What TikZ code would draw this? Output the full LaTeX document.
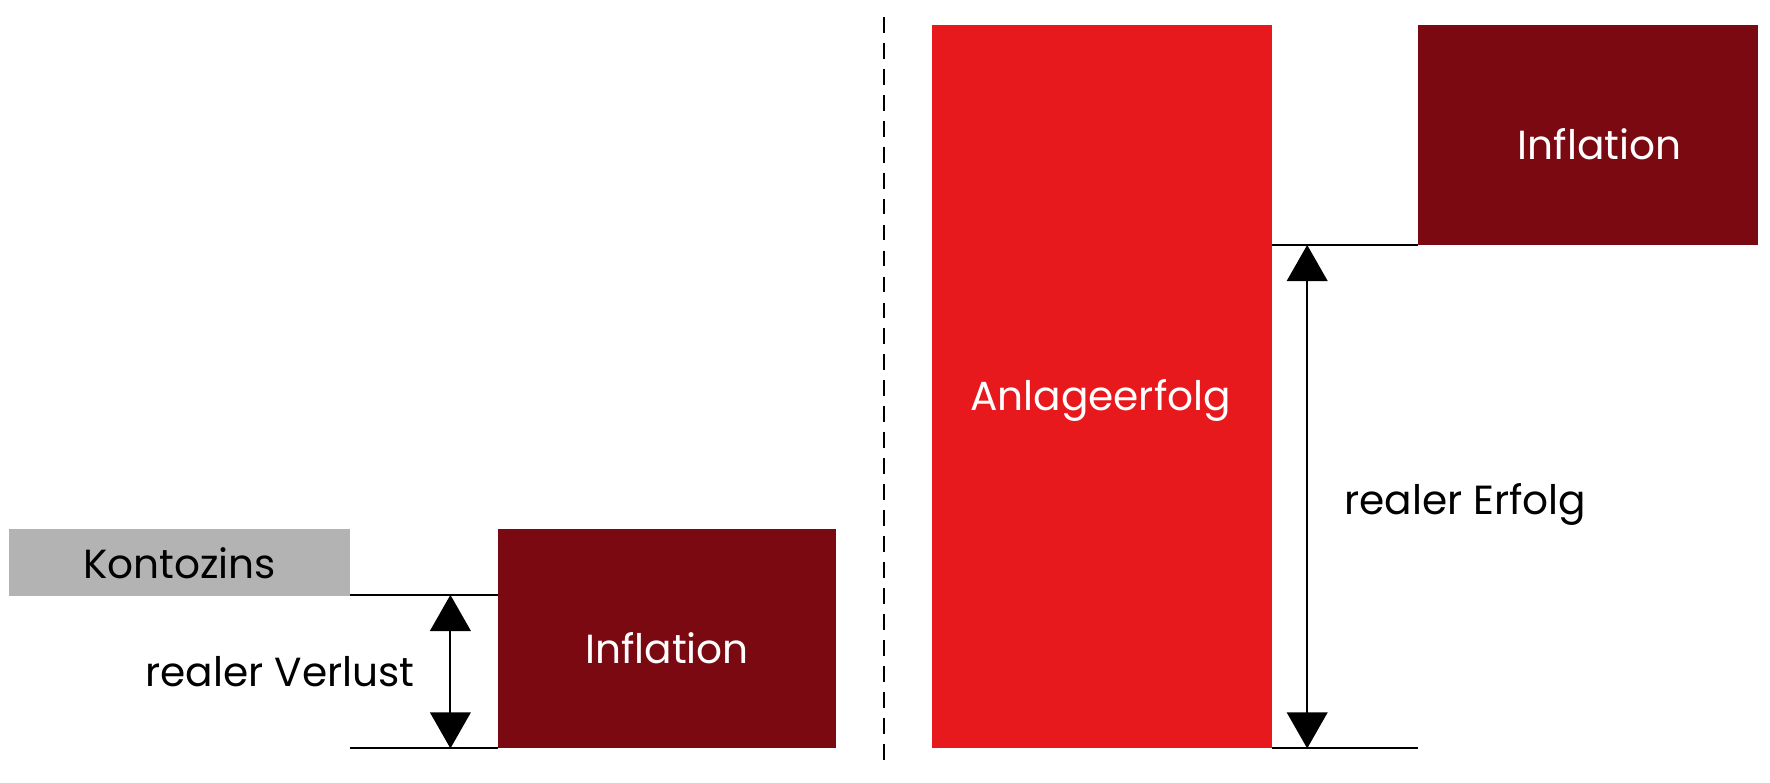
\documentclass[tikz,border=0pt]{standalone}
\usepackage{fontspec}
\setmainfont{Poppins}
\usetikzlibrary{arrows.meta}
\definecolor{dred}{HTML}{7B0911}
\definecolor{bred}{HTML}{E8191C}
\definecolor{lgray}{HTML}{B3B3B3}
\begin{document}
\begin{tikzpicture}[x=1pt,y=-1pt,
  box/.style={draw=none,inner sep=0,text=white},
  lbl/.style={font=\fontsize{36}{40}\selectfont},
  dbl/.style={line width=1.8pt,{Triangle[width=36pt,length=32pt]}-{Triangle[width=36pt,length=32pt]}},
  rule/.style={line width=1.8pt}]
\useasboundingbox (0,0) rectangle (1568,693);
\fill[lgray] (8,469) rectangle (310,528);
\node[lbl] (kz) at (159,499) {Kontozins};
\fill[dred] (441,469) rectangle (741,663);
\node[lbl,text=white] (inf1) at (591,574) {Inflation};
\coordinate (a1) at (310,527); \coordinate (b1) at (441,527);
\coordinate (a2) at (310,663); \coordinate (b2) at (441,663);
\draw[rule] (a1) -- (b1); \draw[rule] (a2) -- (b2);
\coordinate (t1) at (399,527); \coordinate (u1) at (399,663);
\draw[dbl] (t1) -- (u1);
\node[lbl] (rv) at (248,595) {realer Verlust};
\coordinate (d1) at (783,15); \coordinate (d2) at (783,677);
\draw[line width=1.8pt,dash pattern=on 14pt off 9pt] (d1) -- (d2);
\fill[bred] (826,22) rectangle (1127,663);
\node[lbl,text=white] (ae) at (975,355) {Anlageerfolg};
\fill[dred] (1256,22) rectangle (1557,217);
\node[lbl,text=white] (inf2) at (1417,128) {Inflation};
\coordinate (c1) at (1127,217); \coordinate (e1) at (1256,217);
\coordinate (c2) at (1127,663); \coordinate (e2) at (1256,663);
\draw[rule] (c1) -- (e1); \draw[rule] (c2) -- (e2);
\coordinate (t2) at (1158,217); \coordinate (u2) at (1158,663);
\draw[dbl] (t2) -- (u2);
\node[lbl] (re) at (1298,447) {realer Erfolg};
\end{tikzpicture}
\end{document}
